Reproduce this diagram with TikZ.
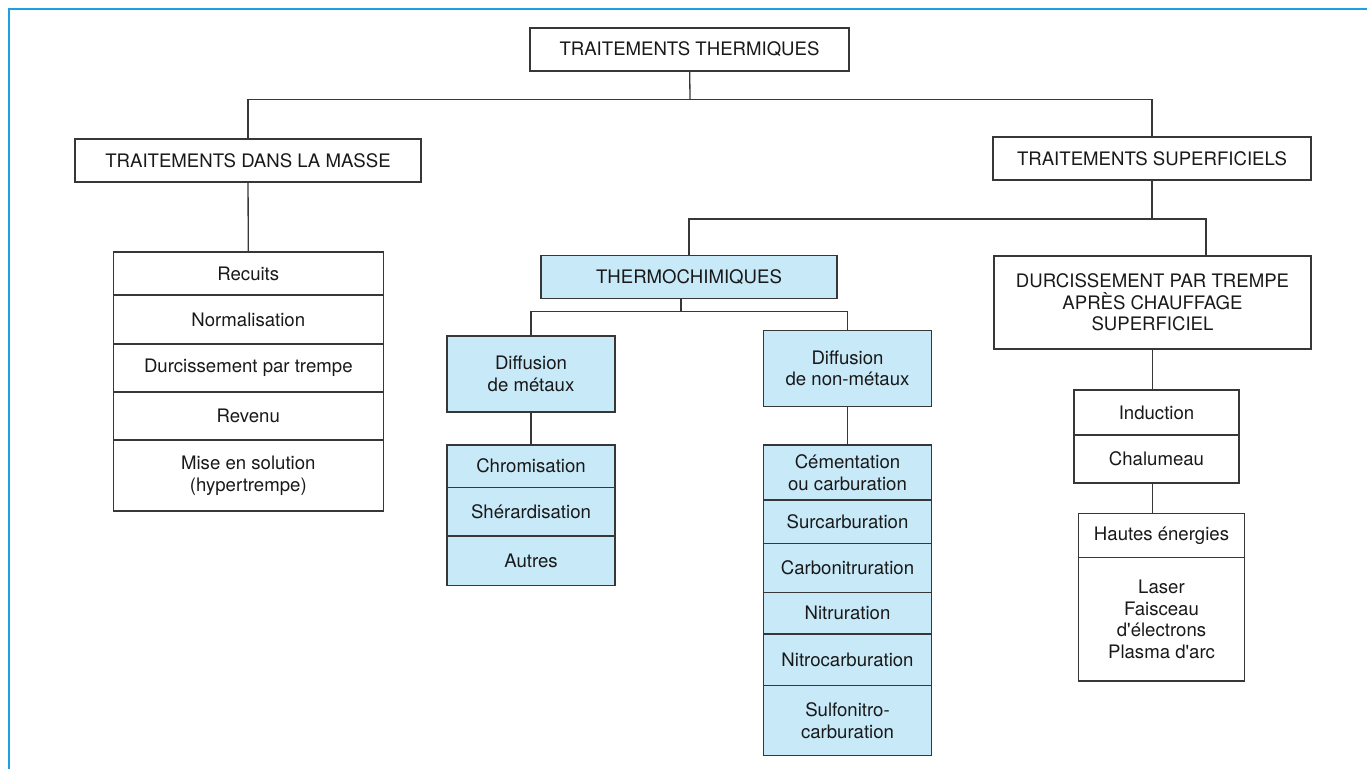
\documentclass[tikz,border=0pt]{standalone}
\usepackage{fontspec}
\setmainfont{TeX Gyre Heros}
\usepackage{xcolor}
\definecolor{framebl}{RGB}{27,161,226}
\definecolor{cellbl}{RGB}{200,233,248}
\definecolor{linegr}{RGB}{55,55,55}

\begin{document}
\begin{tikzpicture}[x=0.5pt, y=-0.5pt, color=linegr, line width=0.65pt,
    every node/.style={draw=linegr, line width=0.65pt, inner sep=0pt, align=center, text=black!90,
        font=\fontsize{9.3pt}{10.8pt}\selectfont},
    bl/.style={fill=cellbl}]

    \useasboundingbox (0,0) rectangle (1367,769);
    \draw [framebl, line width=1pt] (9,769) -- (9,9.5) -- (1367,9.5);

    \node (tt) at (689.5, 49.5) [minimum width=159.5pt, minimum height=21.5pt] {TRAITEMENTS THERMIQUES};
    \node (tm) at (248, 160.5) [minimum width=173pt, minimum height=21.5pt] {TRAITEMENTS DANS LA MASSE};
    \node (ts) at (1152, 158.5) [minimum width=159pt, minimum height=21.5pt] {TRAITEMENTS SUPERFICIELS};

    \node (m1) at (248.3, 273.5) [minimum width=135pt, minimum height=21.5pt] {Recuits};
    \node (m2) at (248.3, 319.5) [minimum width=135pt, minimum height=24.5pt] {Normalisation};
    \node (m3) at (248.3, 368) [minimum width=135pt, minimum height=24pt] {Durcissement par trempe};
    \node (m4) at (248.3, 416) [minimum width=135pt, minimum height=24pt] {Revenu};
    \node (m5) at (248.3, 475.5) [minimum width=135pt, minimum height=35.5pt] {Mise en solution\\(hypertrempe)};

    \node (tc) at (689, 277) [bl, minimum width=148pt, minimum height=21.25pt] {THERMOCHIMIQUES};
    \node (dm) at (531, 374) [bl, minimum width=84pt, minimum height=38pt] {Diffusion\\de métaux};
    \node (a1) at (531, 466.15) [bl, minimum width=84pt, minimum height=21.15pt] {Chromisation};
    \node (a2) at (531, 511.65) [bl, minimum width=84pt, minimum height=24.35pt] {Shérardisation};
    \node (a3) at (531, 560.85) [bl, minimum width=84pt, minimum height=24.85pt] {Autres};

    \node (dn) at (847.5, 368.5) [bl, minimum width=84.2pt, minimum height=38.2pt] {Diffusion\\de non-métaux};
    \node (b1) at (847.5, 472.5) [bl, minimum width=84.2pt, minimum height=27.5pt] {Cémentation\\ou carburation};
    \node (b2) at (847.5, 521.85) [bl, minimum width=84.2pt, minimum height=21.85pt] {Surcarburation};
    \node (b3) at (847.5, 568) [bl, minimum width=84.2pt, minimum height=24.3pt] {Carbonitruration};
    \node (b4) at (847.5, 613.15) [bl, minimum width=84.2pt, minimum height=20.85pt] {Nitruration};
    \node (b5) at (847.5, 659.85) [bl, minimum width=84.2pt, minimum height=25.85pt] {Nitrocarburation};
    \node (b6) at (847.5, 720.7) [bl, minimum width=84.2pt, minimum height=35pt] {Sulfonitro-\\carburation};

    \node (dt) at (1152.5, 302.5) [minimum width=158.5pt, minimum height=46.5pt] {DURCISSEMENT PAR TREMPE\\APRÈS CHAUFFAGE\\SUPERFICIEL};
    \node (c1) at (1156.5, 412.5) [minimum width=82.5pt, minimum height=22.5pt] {Induction};
    \node (c2) at (1156.5, 459) [minimum width=82.5pt, minimum height=24pt] {Chalumeau};
    \node (h1) at (1161.5, 535.5) [minimum width=83pt, minimum height=22pt] {Hautes énergies};
    \node (h2) at (1161.5, 619.25) [minimum width=83pt, minimum height=61.75pt] {Laser\\Faisceau\\d\textquotesingle électrons\\Plasma d\textquotesingle arc};

    \coordinate (j1) at (690, 99.3);
    \coordinate (j2) at (1150, 219);
    \coordinate (j3) at (681, 311.7);

    \draw (tt) to (j1);
    \draw (tm.north) |- (j1) -| (ts.north);
    \draw (tm) to (m1);
    \draw (ts) to (ts.south |- j2);
    \draw (tc.north) |- (j2) -| ([xshift=26.75pt]dt.north);
    \draw (j3 |- tc.south) to (j3);
    \draw (dm.north) |- (j3) -| (dn.north);
    \draw (dm) to (a1);
    \draw (dn) to (b1);
    \draw (dt.south) to (c1.north -| dt.south);
    \draw (c2.south -| dt.south) to (h1.north -| dt.south);

\end{tikzpicture}
\end{document}
